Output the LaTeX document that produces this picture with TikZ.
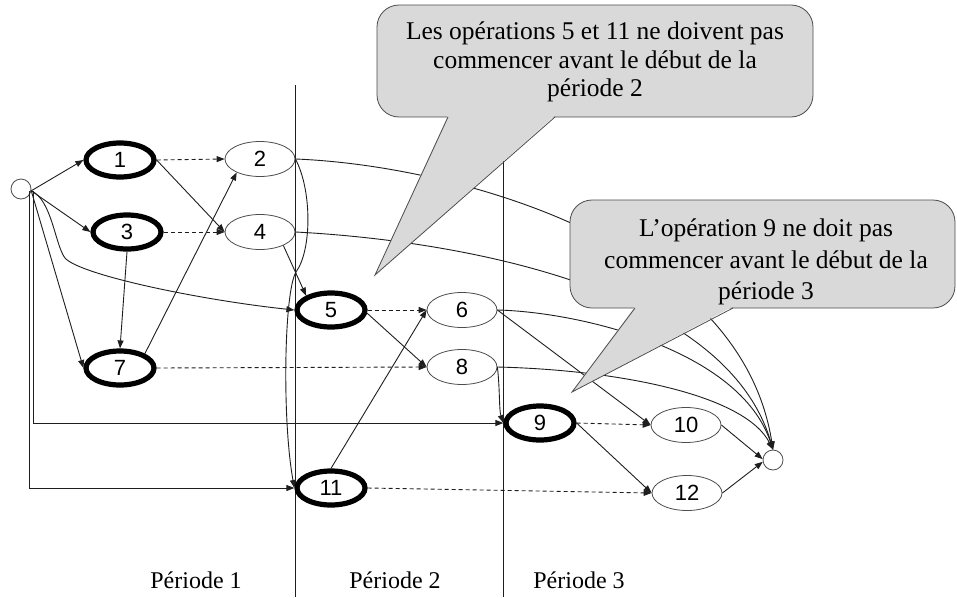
\documentclass[tikz,border=0pt]{standalone}
\usepackage{fontspec}
\setmainfont{Liberation Serif}
\newfontfamily\nodefont{Liberation Sans}
\usetikzlibrary{arrows.meta,shapes.geometric}
\definecolor{calloutgray}{RGB}{217,217,217}
\definecolor{linecol}{RGB}{30,30,30}
\begin{document}
\begin{tikzpicture}[x=1pt,y=-1pt,
  op/.style={ellipse, draw=black!70, fill=white, line width=0.8pt, minimum width=70pt, minimum height=35pt, inner sep=0pt, font=\nodefont\fontsize{22}{22}\selectfont},
  crit/.style={op, draw=black, line width=5.2pt, minimum width=68pt, minimum height=34pt},
  term/.style={circle, draw=black!70, fill=white, line width=0.8pt, minimum size=20pt, inner sep=0pt},
  arr/.style={-{Triangle[length=8pt,width=6pt]}, line width=0.9pt, draw=linecol},
  dsh/.style={arr, dash pattern=on 4pt off 3pt},
  ln/.style={line width=0.9pt, draw=linecol},
  callout/.style={fill=calloutgray, draw=black!70, line width=0.8pt},
  ctexta/.style={font=\fontsize{25.5}{28.5}\selectfont, align=center, inner sep=0pt},
  ctextb/.style={font=\fontsize{25.5}{31.5}\selectfont, align=center, inner sep=0pt},
  plabel/.style={font=\fontsize{24}{24}\selectfont, anchor=base, inner sep=0pt},
]
\useasboundingbox (0,0) rectangle (957,597);
\fill[white] (0,0) rectangle (957,597);

% period separators
\draw[ln] (295,85) -- (295,597);
\draw[ln] (503,85) -- (503,597);

% nodes
\node[term] (src) at (21,189) {};
\node[crit] (n1) at (120,160) {1};
\node[crit] (n3) at (127,232) {3};
\node[crit] (n7) at (120,368) {7};
\node[op] (n2) at (260,159) {2};
\node[op] (n4) at (260,232) {4};
\node[crit] (n5) at (331,310) {5};
\node[op] (n6) at (462,310) {6};
\node[op] (n8) at (462,367) {8};
\node[crit] (n9) at (540,423) {9};
\node[op] (n10) at (686,425) {10};
\node[op] (n12) at (687,493) {12};
\node[crit] (n11) at (331,488) {11};
\node[term] (sink) at (773,460) {};

% edges from source
\draw[arr] (src.-10) -- (n1.west);
\draw[arr] (src.-10) -- (n3.west);
\draw[arr] (src.-10) -- (n7.west);
\draw[arr] (src.-10) .. controls (52,200) and (55,245) .. (65,258) .. controls (80,275) and (200,300) .. (n5.west);
\draw[arr] ([xshift=2pt]src.-10) |- (n9.west);
\draw[arr] ([xshift=-2pt]src.-10) |- (n11.west);

% period 1 edges
\draw[dsh] (n1.east) -- (n2.west);
\draw[arr] (n1.east) -- (n4.west);
\draw[dsh] (n3.east) -- (n4.west);
\draw[arr] (n3.south) -- (n7.north);
\draw[arr] (n7.30) -- (n2.210);
\draw[dsh] (n7.east) -- (n8.west);
\draw[arr] (n2.east) .. controls (312,190) and (312,250) .. (296,272) .. controls (284,292) and (282,420) .. (n11.west);
\draw[arr] (n4.-30) -- (n5.150);

% long curves to sink
\draw[arr] (n2.east) .. controls (450,165) and (740,240) .. (sink.north);
\draw[arr] (n4.east) .. controls (450,240) and (725,285) .. (sink.north);
\draw[arr] (n6.east) .. controls (580,312) and (740,350) .. (sink.north);
\draw[arr] (n8.east) .. controls (620,370) and (745,395) .. (sink.north);

% period 2 edges
\draw[dsh] (n5.east) -- (n6.west);
\draw[arr] (n5.-5) -- (n8.west);
\draw[arr] (n11.north) -- (n6.west);
\draw[dsh] (n11.east) -- (n12.west);
\draw[arr] (n6.east) -- (n10.west);
\draw[arr] (n8.east) .. controls (500,390) and (499,410) .. (n9.west);

% period 3 edges
\draw[dsh] (n9.east) -- (n10.west);
\draw[arr] (n9.east) -- (n12.west);
\draw[arr] (n10.east) -- (sink.175);
\draw[arr] (n12.east) -- (sink.190);

% callout 1
\filldraw[callout, rounded corners=22pt] (377,5) rectangle (813,117);
\fill[calloutgray] (448,115.5) -- (555,115.5) -- (375,275) -- cycle;
\draw[black!70, line width=0.8pt] (448,117) -- (375,275) -- (555,117);
\node[ctexta] (c1) at (595,62) {Les opérations 5 et 11 ne doivent pas\\commencer avant le début de la\\période 2};

% callout 2
\filldraw[callout, rounded corners=22pt] (570,200) rectangle (955,308);
\fill[calloutgray] (635,306.5) -- (733,306.5) -- (572,392) -- cycle;
\draw[black!70, line width=0.8pt] (635,308) -- (572,392) -- (733,308);
\node[ctextb] (c2) at (766,262) {L’opération 9 ne doit pas\\commencer avant le début de la\\période 3};

% period labels
\node[plabel] (p1) at (196,588) {Période 1};
\node[plabel] (p2) at (395,588) {Période 2};
\node[plabel] (p3) at (579,588) {Période 3};
\end{tikzpicture}
\end{document}
